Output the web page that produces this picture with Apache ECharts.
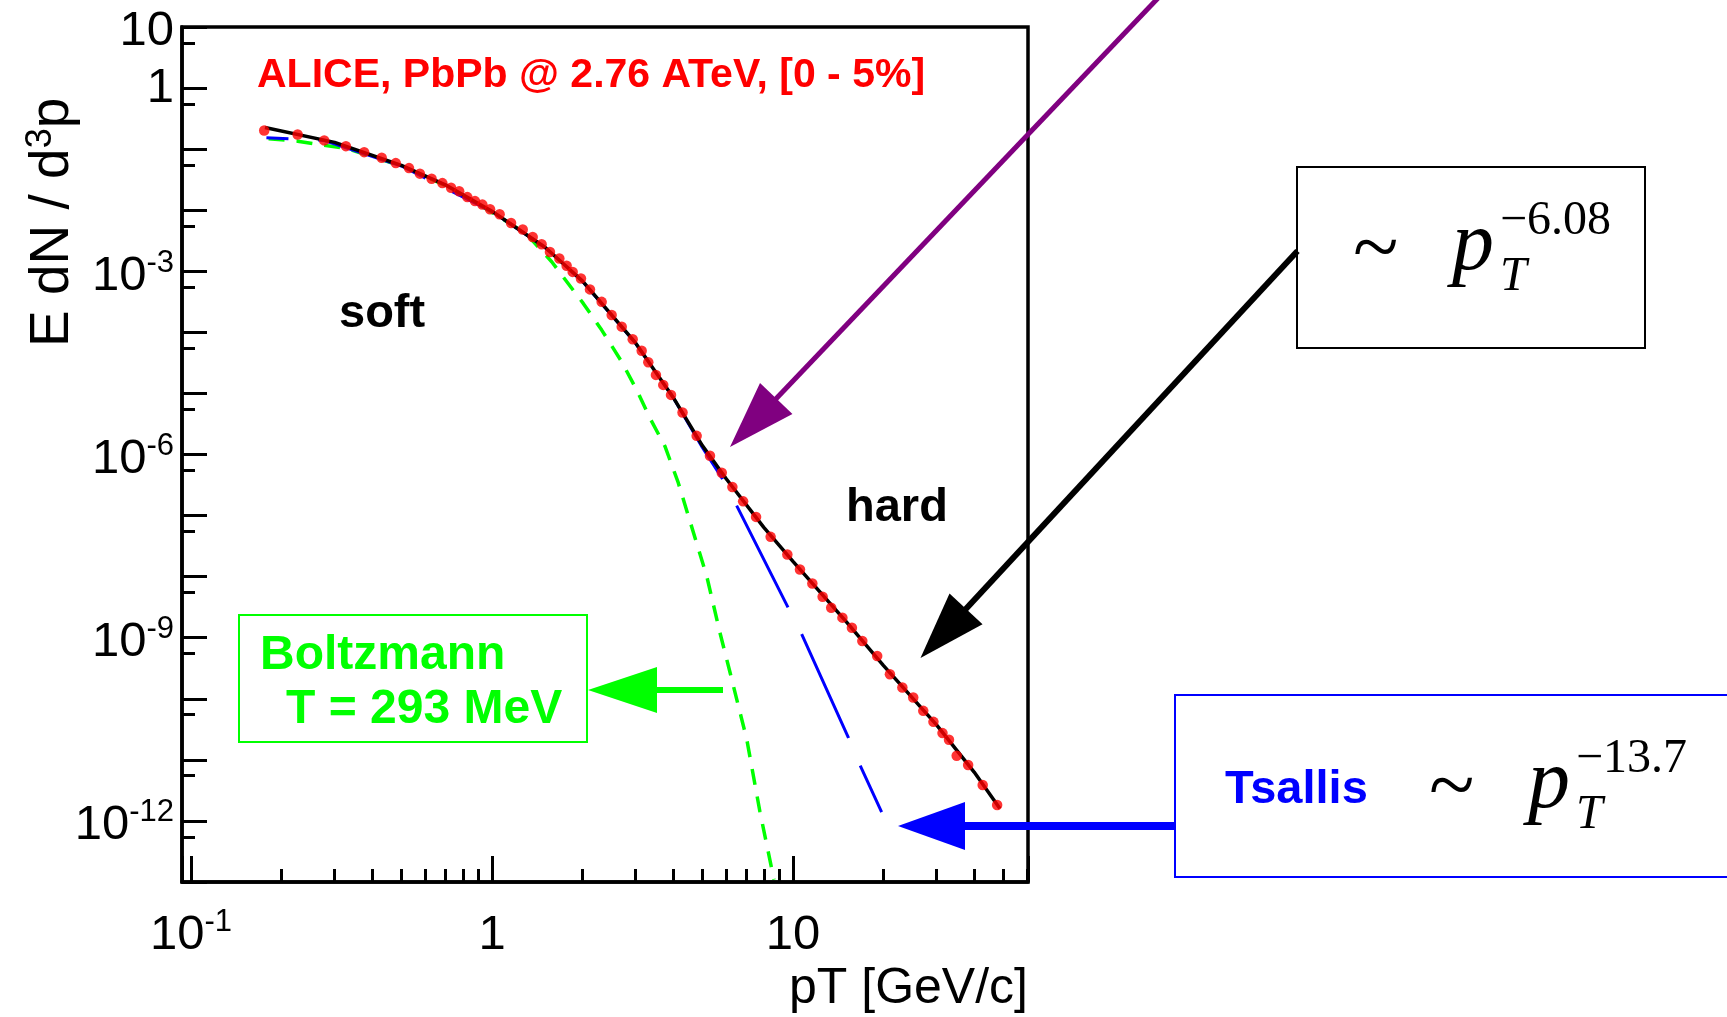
<!DOCTYPE html>
<html>
<head>
<meta charset="utf-8">
<script src="https://cdn.jsdelivr.net/npm/echarts@6/dist/echarts.min.js"></script>
<style>
html,body{margin:0;padding:0;background:#ffffff;}
#c{width:1727px;height:1017px;}
</style>
</head>
<body>
<div id="c"></div>
<script>
// ---------------- data ----------------
// ALICE PbPb 2.76 ATeV [0-5%] points
const dataPt = [0.175,0.226,0.277,0.327,0.376,0.430,0.479,0.530,0.576,0.630,
  0.684,0.731,0.778,0.828,0.878,0.929,0.985,1.06,1.157,1.265,
  1.365,1.462,1.558,1.674,1.77,1.854,1.975,2.116,2.314,2.498,
  2.698,2.934,3.143,3.306,3.505,3.707,3.934,4.296,4.787,5.30,
  5.80,6.29,6.83,7.54,8.43,9.58,10.55,11.6,12.55,13.4,
  14.6,15.7,17.0,19.05,21.0,23.1,25.1,27.1,29.3,31.4,
  33.0,35.0,38.2,42.7,47.7];
const dataY = [0.202,0.174,0.139,0.112,0.0893,0.0724,0.0591,0.0489,0.0397,0.0328,
  0.0278,0.0234,0.0204,0.0164,0.0141,0.01235,0.01035,0.00858,0.00618,0.00482,
  0.00365,0.00277,0.00207,0.00162,0.00123,9.77e-4,7.63e-4,5.05e-4,3.16e-4,1.92e-4,
  1.24e-4,7.69e-5,5.01e-5,3.24e-5,2.01e-5,1.38e-5,9.46e-6,4.86e-6,2.02e-6,9.53e-7,
  5.03e-7,2.94e-7,1.71e-7,9.51e-8,4.48e-8,2.30e-8,1.31e-8,7.73e-9,4.69e-9,3.10e-9,
  2.13e-9,1.46e-9,8.83e-10,5.02e-10,2.52e-10,1.53e-10,1.05e-10,6.34e-11,4.19e-11,2.74e-11,
  2.13e-11,1.17e-11,8.22e-12,3.87e-12,1.82e-12];

// black solid fit curve
const fitPt = [0.176,0.3,0.5,0.7,1.0,1.5,2.0,3.0,4.0,5.0,6.0,8.0,10,15,20,30,40,48.7];
const fitY  = [0.226,0.129,0.0542,0.026,9.6e-3,2.48e-3,6.9e-4,6.7e-5,8.6e-6,1.4e-6,4.0e-7,6.4e-8,1.78e-8,1.85e-9,3.5e-10,3.75e-11,6.3e-12,1.6e-12];

// blue long-dashed Tsallis curve
const tsallisPt = [0.178,0.277,0.5,1.0,1.5,2.0,3.0,4.0,5.0,5.8,6.5,9.64,10.69,15.27,16.7,19.71];
const tsallisY  = [0.1535,0.138,0.053,9.5e-3,2.45e-3,6.8e-4,6.6e-5,8.6e-6,1.3e-6,4.17e-7,1.455e-7,3.1e-9,1.14e-9,2.33e-11,8.2e-12,1.39e-12];

// green short-dashed Boltzmann curve
const boltzPt = [0.181,0.226,0.33,0.5,0.7,1.0,1.3,1.579,2.01,2.315,2.697,3.025,3.349,3.757,4.16,5.17,5.72,6.18,7.02,7.77,8.65];
const boltzY  = [0.148,0.135,0.1016,0.053,0.0255,9.2e-3,4.1e-3,1.43e-3,2.98e-4,1.09e-4,3.31e-5,1.14e-5,3.94e-6,1.36e-6,3.42e-7,1.02e-8,1.21e-9,2.69e-10,2.19e-11,1.4e-12,1.09e-13];

// tick labels: exponent -> [base, superscript]
const xTickLabels = {'-1':['10','-1'], '0':['1',''], '1':['10','']};
const yTickLabels = {'1':['10',''], '0':['1',''], '-3':['10','-3'], '-6':['10','-6'], '-9':['10','-9'], '-12':['10','-12']};

// ---------------- helpers ----------------
const SANS = 'Liberation Sans, Arial, Helvetica, sans-serif';
const SERIF = 'Liberation Serif, Times New Roman, serif';
const TICKSIZE = 49;
const SUPSIZE = 31;

function zip(a,b){ return a.map((v,i)=>[v,b[i]]); }
function expOf(v){ const e = Math.log10(v); const r = Math.round(e); return Math.abs(e-r) < 1e-6 ? r : null; }
function fmtY(v){
  const e = expOf(v); if (e === null) return '';
  const l = yTickLabels[String(e)]; if (!l) return '';
  if (l[1]) return '{bs|'+l[0]+'}{s|'+l[1]+'}';
  return e === 1 ? '{bt|'+l[0]+'}' : '{b|'+l[0]+'}';
}
function fmtX(v){
  const e = expOf(v); if (e === null) return '';
  const l = xTickLabels[String(e)]; if (!l) return '';
  return l[1] ? '{bs|'+l[0]+'}{s|'+l[1]+'}' : '{bs|'+l[0]+'}';
}
const tickRich = {
  b:  {fontFamily: SANS, fontSize: TICKSIZE, lineHeight: TICKSIZE, color:'#000'},
  bt: {fontFamily: SANS, fontSize: TICKSIZE, lineHeight: TICKSIZE, padding:[8,0,0,0], color:'#000'},
  bs: {fontFamily: SANS, fontSize: TICKSIZE, lineHeight: TICKSIZE, padding:[10,0,0,0], color:'#000'},
  s:  {fontFamily: SANS, fontSize: SUPSIZE, lineHeight: SUPSIZE, padding:[0,0,16,0], color:'#000'}
};

function arrow(x1,y1,tx,ty,len,half,w,color){
  const dx = tx-x1, dy = ty-y1, L = Math.hypot(dx,dy), ux = dx/L, uy = dy/L;
  const bx = tx-ux*len, by = ty-uy*len, px = -uy, py = ux;
  return [
    {type:'line', z:100, shape:{x1:x1, y1:y1, x2:bx+ux*3, y2:by+uy*3}, style:{stroke:color, lineWidth:w}},
    {type:'polygon', z:100, shape:{points:[[tx,ty],[bx+px*half,by+py*half],[bx-px*half,by-py*half]]}, style:{fill:color}}
  ];
}
function txt(x,y,text,o){
  return {type:'text', x:x, y:y, z:100, style:Object.assign({text:text, align:'left', verticalAlign:'middle', fill:'#000', fontFamily:SANS}, o||{})};
}
function powerBox(tx, base, extra){
  // tilde, italic p, subscript T, superscript exponent
  return [
    txt(tx, base-24, '~', {fontFamily:SERIF, fontSize:84}),
    txt(tx+99, base-30, 'p', {fontFamily:SERIF, fontSize:84, fontStyle:'italic'}),
    txt(tx+147, base, 'T', {fontFamily:SERIF, fontSize:48, fontStyle:'italic'}),
    txt(tx+147, base-56, extra, {fontFamily:SERIF, fontSize:48})
  ];
}

// ---------------- chart ----------------
const chart = echarts.init(document.getElementById('c'), null, {renderer:'canvas', width:1727, height:1017});

const graphics = [].concat(
  [
    txt(257, 76, 'ALICE, PbPb @ 2.76 ATeV, [0 - 5%]', {fontSize:41, fontWeight:'bold', fill:'#ff0000'}),
    txt(339, 314, 'soft', {fontSize:47, fontWeight:'bold'}),
    txt(846, 508, 'hard', {fontSize:47, fontWeight:'bold'}),
    {type:'rect', z:100, shape:{x:239, y:615, width:348, height:127}, style:{stroke:'#00ff00', lineWidth:2, fill:'none'}},
    txt(260, 656, 'Boltzmann', {fontSize:48, fontWeight:'bold', fill:'#00ff00'}),
    txt(286, 710, 'T = 293 MeV', {fontSize:48, fontWeight:'bold', fill:'#00ff00'}),
    {type:'rect', z:100, shape:{x:1297, y:167, width:348, height:181}, style:{stroke:'#000', lineWidth:2, fill:'none'}},
    {type:'rect', z:100, shape:{x:1175, y:695, width:620, height:182}, style:{stroke:'#0000ff', lineWidth:2, fill:'none'}},
    txt(1225, 790, 'Tsallis', {fontSize:47, fontWeight:'bold', fill:'#0000ff'}),
    {type:'text', x:53, y:347, rotation:Math.PI/2, z:100, style:{
      text:'{a|E dN / d}{s|3}{a|p}', align:'left', verticalAlign:'middle',
      rich:{a:{fontSize:55, fontFamily:SANS, fill:'#000'}, s:{fontSize:36, fontFamily:SANS, fill:'#000', padding:[0,0,24,0]}}}},
    {type:'text', x:1028, y:989, z:100, style:{text:'pT [GeV/c]', align:'right', verticalAlign:'middle', fontSize:50, fontFamily:SANS, fill:'#000'}}
  ],
  powerBox(1353, 277, '\u22126.08'),
  powerBox(1429, 815, '\u221213.7'),
  arrow(1160, -4, 730, 447, 67, 22.4, 5, '#800080'),
  arrow(1297.5, 251, 920.5, 658, 67, 22.5, 6, '#000000'),
  arrow(723, 690, 588, 690, 69, 23, 6, '#00ff00'),
  arrow(1175, 826, 898, 826, 67, 24, 8, '#0000ff')
);

const option = {
  animation: false,
  backgroundColor: '#ffffff',
  grid: {left:182, top:27, right:699, bottom:135, show:true, borderColor:'#000', borderWidth:3.5,
         backgroundColor:'transparent', containLabel:false, outerBoundsMode:'none'},
  xAxis: {
    type:'log', logBase:10, min:0.0933, max:60.4,
    axisLine:{show:true, onZero:false, lineStyle:{color:'#000', width:3.5}},
    axisTick:{show:true, inside:true, length:26, lineStyle:{color:'#000', width:3}},
    minorTick:{show:true, splitNumber:9, length:13, lineStyle:{color:'#000', width:3}},
    splitLine:{show:false}, minorSplitLine:{show:false},
    axisLabel:{show:true, margin:24, formatter:fmtX, rich:tickRich, showMinLabel:true, showMaxLabel:true}
  },
  yAxis: {
    type:'log', logBase:10, min:1e-13, max:10, interval:1,
    axisLine:{show:true, onZero:false, lineStyle:{color:'#000', width:3.5}},
    axisTick:{show:true, inside:true, length:25, lineStyle:{color:'#000', width:3}},
    minorTick:{show:true, splitNumber:2, length:13, lineStyle:{color:'#000', width:3}},
    splitLine:{show:false}, minorSplitLine:{show:false},
    axisLabel:{show:true, margin:8, formatter:fmtY, rich:tickRich, showMinLabel:true, showMaxLabel:true}
  },
  series: [
    {type:'line', name:'Boltzmann', data:zip(boltzPt, boltzY), symbol:'none', z:2,
     lineStyle:{color:'#00ff00', width:3.5, type:[16,12]}},
    {type:'line', name:'Tsallis', data:zip(tsallisPt, tsallisY), symbol:'none', z:3,
     lineStyle:{color:'#0000ff', width:3, type:[114,30]}},
    {type:'line', name:'fit', data:zip(fitPt, fitY), symbol:'none', z:4,
     lineStyle:{color:'#000000', width:3.5}},
    {type:'scatter', name:'ALICE', data:zip(dataPt, dataY), symbol:'circle', symbolSize:10.5, z:5,
     itemStyle:{color:'#ff0000'}}
  ],
  graphic: {elements: graphics}
};
chart.setOption(option);

// align the Tsallis dash pattern so a dash starts where the curve leaves the data (pT = 6.5)
(function(){
  let L = 0, prev = null;
  for (let i = 0; i <= 10; i++) {
    const p = chart.convertToPixel({gridIndex:0}, [tsallisPt[i], tsallisY[i]]);
    if (prev) L += Math.hypot(p[0]-prev[0], p[1]-prev[1]);
    prev = p;
  }
  const period = 144;
  const off = (period - (L % period)) % period;
  chart.setOption({series:[{}, {lineStyle:{dashOffset: off}}]});
})();
</script>
</body>
</html>
